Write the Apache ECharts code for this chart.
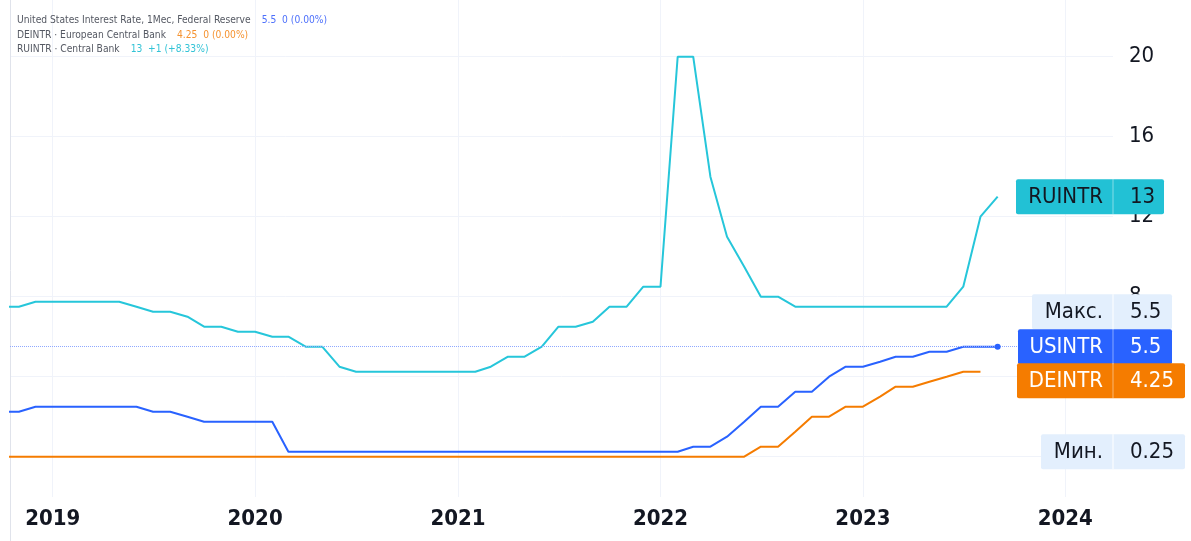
<!DOCTYPE html>
<html><head><meta charset="utf-8">
<script src="https://cdn.jsdelivr.net/npm/echarts@6/dist/echarts.min.js"></script>
<style>html,body{margin:0;padding:0;background:#fff}#c{width:1191px;height:541px}</style>
</head><body><div id="c"></div>
<script>
// ---- data (monthly, first month = Oct 2018) ----
const firstYear = 2018, firstMonth = 10;
const ruValues = [7.5,7.5,7.75,
  7.75,7.75,7.75,7.75,7.75,7.5,7.25,7.25,7.0,6.5,6.5,6.25,
  6.25,6.0,6.0,5.5,5.5,4.5,4.25,4.25,4.25,4.25,4.25,4.25,
  4.25,4.25,4.5,5.0,5.0,5.5,6.5,6.5,6.75,7.5,7.5,8.5,
  8.5,20,20,14,11,9.5,8,8,7.5,7.5,7.5,7.5,
  7.5,7.5,7.5,7.5,7.5,7.5,8.5,12,13];
const usValues = [2.25,2.25,2.5,
  2.5,2.5,2.5,2.5,2.5,2.5,2.25,2.25,2.0,1.75,1.75,1.75,
  1.75,1.75,0.25,0.25,0.25,0.25,0.25,0.25,0.25,0.25,0.25,0.25,
  0.25,0.25,0.25,0.25,0.25,0.25,0.25,0.25,0.25,0.25,0.25,0.25,
  0.25,0.25,0.5,0.5,1.0,1.75,2.5,2.5,3.25,3.25,4.0,4.5,
  4.5,4.75,5.0,5.0,5.25,5.25,5.5,5.5,5.5];
const deValues = [0,0,0,
  0,0,0,0,0,0,0,0,0,0,0,0,
  0,0,0,0,0,0,0,0,0,0,0,0,
  0,0,0,0,0,0,0,0,0,0,0,0,
  0,0,0,0,0,0,0.5,0.5,1.25,2.0,2.0,2.5,
  2.5,3.0,3.5,3.5,3.75,4.0,4.25,4.25];
const yTickValues = [0,4,8,12,16,20];
const xTickYears = [2019,2020,2021,2022,2023,2024];
const seriesNames = ['USINTR','DEINTR','RUINTR'];
const legendTitles = ['United States Interest Rate, 1Мес, Federal Reserve','DEINTR · European Central Bank','RUINTR · Central Bank'];
const legendValues = ['5.5  0 (0.00%)','4.25  0 (0.00%)','13  +1 (+8.33%)'];
const lastValues = ['5.5','4.25','13'];
const maxLabel = ['Макс.','5.5', 5.5];
const minLabel = ['Мин.','0.25', 0.25];

const C_US = '#2962ff', C_DE = '#f57c00', C_RU = '#26c6da';
function monthTime(i){
  const t = firstMonth - 1 + i;
  return new Date(firstYear + Math.floor(t/12), t % 12, 1).getTime();
}
const toPairs = arr => arr.map((v,i)=>[monthTime(i), v]);
const yearTicks = xTickYears.map(y=>new Date(y,0,1).getTime());

const chart = echarts.init(document.getElementById('c'), null, {renderer:'canvas'});
const FONT = '"DejaVu Sans Condensed", "DejaVu Sans", sans-serif';
const grid = {left:10, right:78, top:0, bottom:44};
const legStyle = (c)=>({fontFamily:FONT, fontSize:10.2, fontWeight:'normal', color:c, lineHeight:14.7});
chart.setOption({
  animation:false,
  backgroundColor:'#ffffff',
  grid: grid,
  title: {
    left:17, top:13, padding:0,
    text: legendTitles.map((t,i)=>'{t|'+t+'}{s| }{v'+i+'|'+legendValues[i]+'}').join('\n'),
    textStyle:{
      fontFamily:FONT, fontSize:10, fontWeight:'normal', lineHeight:14.7,
      rich:{
        t:legStyle('#555963'),
        s:Object.assign(legStyle('#555963'), {width:11}),
        v0:legStyle('#4d70fb'),
        v1:legStyle('#f5922f'),
        v2:legStyle('#33c3d6')
      }
    }
  },
  xAxis: {
    type:'value',
    min:new Date(2018,9,16).getTime(), max:new Date(2024,2,27).getTime(),
    axisLine:{show:false},
    axisTick:{show:false, customValues: yearTicks},
    axisLabel:{
      customValues: yearTicks,
      formatter: v => String(new Date(v).getFullYear()),
      fontFamily:FONT, fontSize:22, fontWeight:'bold', color:'#131722', margin:11
    },
    splitLine:{show:true, lineStyle:{color:'#f0f3fa', width:1}}
  },
  yAxis: {
    type:'value', position:'right',
    min:(456.7-497)/20, max:456.7/20,
    axisLine:{show:false},
    axisTick:{show:false, customValues: yTickValues},
    axisLabel:{customValues: yTickValues, fontFamily:FONT, fontSize:22, color:'#131722', align:'left', margin:16},
    splitLine:{show:true, lineStyle:{color:'#f0f3fa', width:1}}
  },
  series: [
    {name:seriesNames[2], type:'line', data:toPairs(ruValues), showSymbol:false, lineStyle:{color:C_RU, width:2}, itemStyle:{color:C_RU}, z:3},
    {name:seriesNames[1], type:'line', data:toPairs(deValues), showSymbol:false, lineStyle:{color:C_DE, width:2}, itemStyle:{color:C_DE}, z:3},
    {name:seriesNames[0], type:'line', data:toPairs(usValues), showSymbol:false, lineStyle:{color:C_US, width:2}, itemStyle:{color:C_US}, z:4,
      markLine:{silent:true, symbol:'none', label:{show:false},
        lineStyle:{color:'#8fa8ff', type:'dotted', width:1}, data:[{yAxis:usValues[usValues.length-1]}]},
      markPoint:{silent:true, symbol:'circle', symbolSize:6, label:{show:false}, itemStyle:{color:C_US},
        data:[{coord:[monthTime(usValues.length-1), usValues[usValues.length-1]]}]}
    }
  ]
});

// ---- price labels on the right, placed with the axis scale ----
const DIV = 1113, H = 35;
function box(top, left, right, bg, fg, name, val, divColor){
  return [
    {type:'rect', z:100, shape:{x:left, y:top, width:right-left, height:H, r:2}, style:{fill:bg}},
    {type:'line', z:101, shape:{x1:DIV, y1:top, x2:DIV, y2:top+H}, style:{stroke:divColor, lineWidth:1}},
    {type:'text', z:102, style:{text:name, x:DIV-10, y:top+H/2+1, align:'right', verticalAlign:'middle', font:'22px '+FONT, fill:fg}},
    {type:'text', z:102, style:{text:val, x:DIV+17, y:top+H/2+1, align:'left', verticalAlign:'middle', font:'22px '+FONT, fill:fg}}
  ];
}
const py = v => chart.convertToPixel({yAxisIndex:0}, v);
const yRU = py(ruValues[ruValues.length-1]);
const yUS = py(usValues[usValues.length-1]);
const yDE = py(deValues[deValues.length-1]);
const yMin = py(minLabel[2]);
const usTop = yUS - H/2;
const deTop = Math.max(yDE - H/2, usTop + H - 1);
const els = [].concat(
  [{type:'line', z:1, shape:{x1:10.5, y1:0, x2:10.5, y2:541}, style:{stroke:'#e0e3eb', lineWidth:1}}],
  box(yRU - H/2, 1016, 1164, '#22c1d5', '#131722', seriesNames[2], lastValues[2], 'rgba(255,255,255,0.45)'),
  box(usTop - H, 1032, 1172, '#e3effd', '#131722', maxLabel[0], maxLabel[1], '#ffffff'),
  box(usTop, 1018, 1172, C_US, '#ffffff', seriesNames[0], lastValues[0], 'rgba(255,255,255,0.45)'),
  box(deTop, 1017, 1185, C_DE, '#ffffff', seriesNames[1], lastValues[1], 'rgba(255,255,255,0.45)'),
  box(yMin - H/2, 1041, 1185, '#e3effd', '#131722', minLabel[0], minLabel[1], '#ffffff')
);
chart.setOption({graphic: els});
</script></body></html>
